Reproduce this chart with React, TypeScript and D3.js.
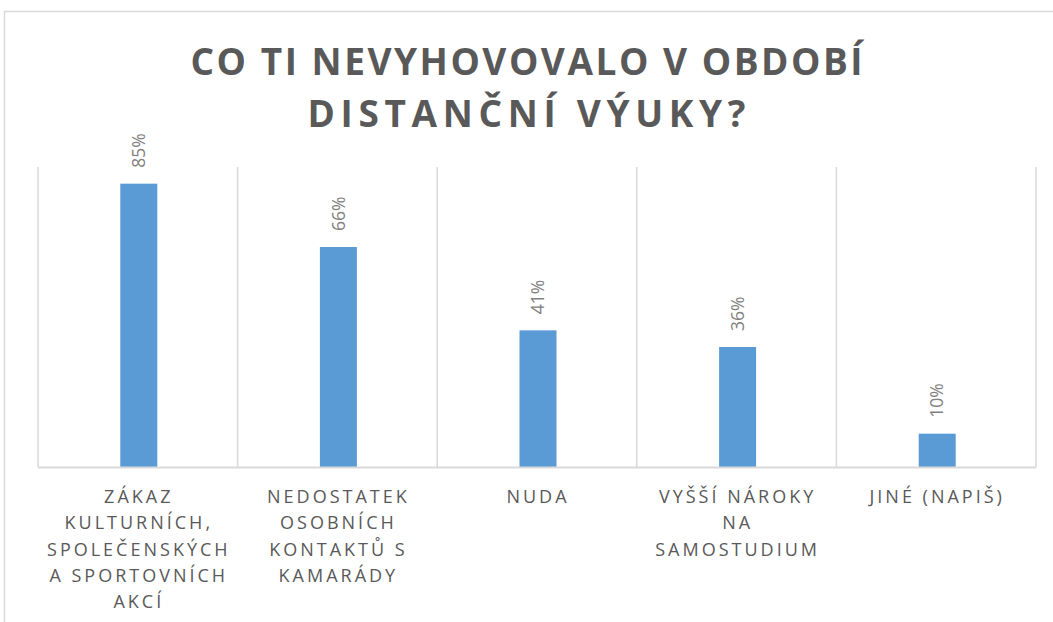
import { useEffect, useRef } from "react";
import * as d3 from "d3";

// chart data
const categories = [
  "Zákaz kulturních, společenských a sportovních akcí",
  "Nedostatek osobních kontaktů s kamarády",
  "Nuda",
  "Vyšší nároky na samostudium",
  "Jiné (napiš)",
];
const categoryLines = [
  ["ZÁKAZ", "KULTURNÍCH,", "SPOLEČENSKÝCH", "A SPORTOVNÍCH", "AKCÍ"],
  ["NEDOSTATEK", "OSOBNÍCH", "KONTAKTŮ S", "KAMARÁDY"],
  ["NUDA"],
  ["VYŠŠÍ NÁROKY", "NA", "SAMOSTUDIUM"],
  ["JINÉ (NAPIŠ)"],
];
const values = [0.85, 0.66, 0.41, 0.36, 0.1];
const titleLines = ["CO TI NEVYHOVOVALO V OBDOBÍ", "DISTANČNÍ VÝUKY?"];

const App = () => {
  const svgRef = useRef<SVGSVGElement | null>(null);

  useEffect(() => {
    const width = 1053;
    const height = 622;
    const plot = { left: 38, right: 1036, top: 167, bottom: 467 };

    const svg = d3.select(svgRef.current);
    svg.selectAll("*").remove();
    svg.attr("width", width).attr("height", height);

    // outer chart frame (cropped at right and bottom)
    svg
      .append("rect")
      .attr("x", 4.5)
      .attr("y", 11.5)
      .attr("width", 1200)
      .attr("height", 800)
      .attr("fill", "white")
      .attr("stroke", "#d9d9d9")
      .attr("stroke-width", 1.5);

    // title
    const titleWidths = [672, 438];
    svg
      .selectAll(".title")
      .data(titleLines)
      .enter()
      .append("text")
      .attr("class", "title")
      .attr("x", width / 2)
      .attr("y", (_d, i) => 75 + i * 52)
      .attr("text-anchor", "middle")
      .attr("textLength", (_d, i) => titleWidths[i])
      .attr("lengthAdjust", "spacing")
      .style("font-family", "'Open Sans', sans-serif")
      .style("font-weight", "bold")
      .style("font-size", "37px")
      .style("fill", "#595959")
      .text((d) => d);

    const x = d3
      .scaleBand<number>()
      .domain(categories.map((_d, i) => i))
      .range([plot.left, plot.right])
      .padding(0);

    const y = d3.scaleLinear().domain([0, 0.9]).range([plot.bottom, plot.top]);

    // category separators
    const bounds = categories.map((_d, i) => x(i) as number).concat([plot.right]);
    svg
      .selectAll(".sep")
      .data(bounds)
      .enter()
      .append("line")
      .attr("x1", (d) => d)
      .attr("x2", (d) => d)
      .attr("y1", plot.top)
      .attr("y2", plot.bottom)
      .attr("stroke", "#d9d9d9")
      .attr("stroke-width", 1.5);

    // bars
    const barW = 37;
    svg
      .selectAll(".bar")
      .data(values)
      .enter()
      .append("rect")
      .attr("x", (_d, i) => (x(i) as number) + x.bandwidth() / 2 - barW / 2 + 1)
      .attr("y", (d) => y(d))
      .attr("width", barW)
      .attr("height", (d) => plot.bottom - y(d))
      .attr("fill", "#5b9bd5");

    // baseline
    svg
      .append("line")
      .attr("x1", plot.left)
      .attr("x2", plot.right)
      .attr("y1", plot.bottom + 0.5)
      .attr("y2", plot.bottom + 0.5)
      .attr("stroke", "#d9d9d9")
      .attr("stroke-width", 2);

    // value labels (rotated)
    svg
      .selectAll(".val")
      .data(values)
      .enter()
      .append("text")
      .attr(
        "transform",
        (d, i) =>
          `translate(${(x(i) as number) + x.bandwidth() / 2 + 1},${y(d) - 16}) rotate(-90)`
      )
      .attr("dy", "0.35em")
      .attr("text-anchor", "start")
      .style("font-family", "'Open Sans', sans-serif")
      .style("font-size", "17.5px")
      .style("fill", "#808080")
      .text((d) => `${Math.round(d * 100)}%`);

    // category labels
    categoryLines.forEach((lines, i) => {
      svg
        .append("g")
        .selectAll("text")
        .data(lines)
        .enter()
        .append("text")
        .attr("x", (x(i) as number) + x.bandwidth() / 2 + 1)
        .attr("y", (_d, j) => 503 + j * 26.3)
        .attr("text-anchor", "middle")
        .style("font-family", "'Open Sans', sans-serif")
        .style("font-size", "18px")
        .style("letter-spacing", "3px")
        .style("fill", "#595959")
        .text((d) => d);
    });
  }, []);

  return (
    <div style={{ position: "absolute", left: 0, top: 0 }}>
      <svg ref={svgRef} style={{ display: "block" }}></svg>
    </div>
  );
};

export default App;
